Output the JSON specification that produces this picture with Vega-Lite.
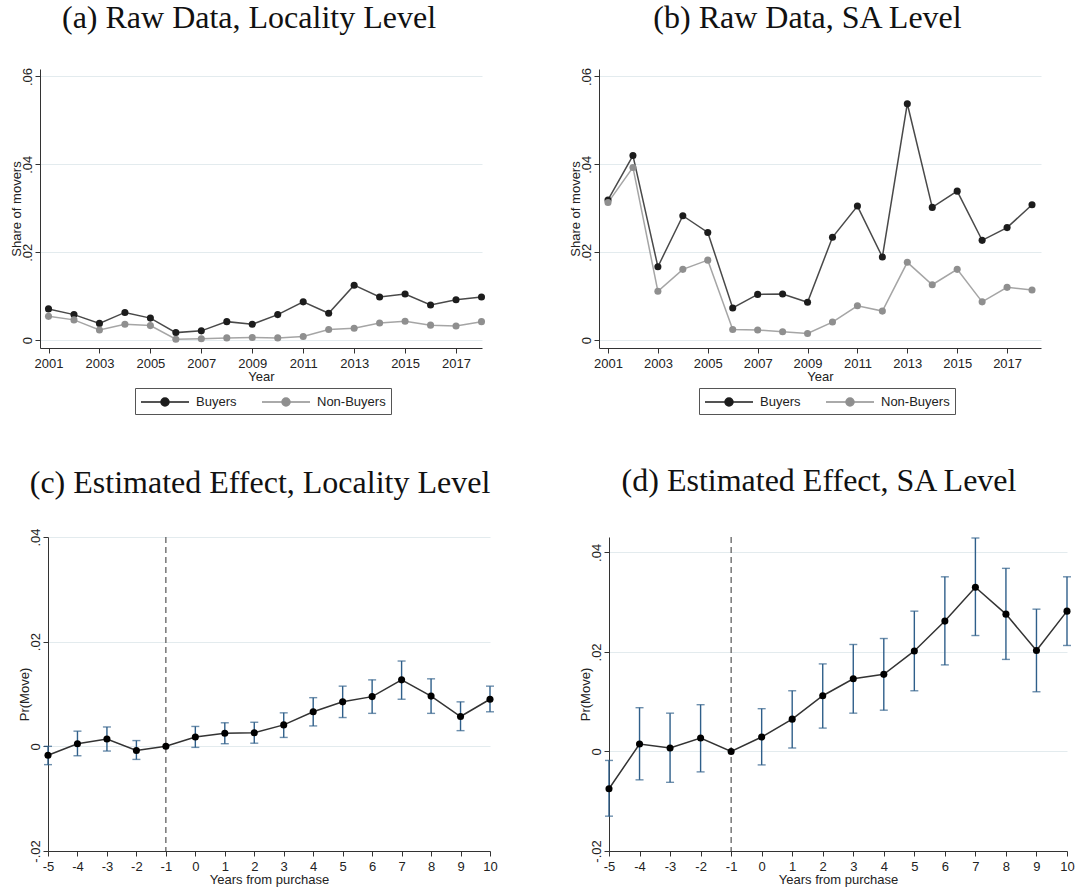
{
  "$schema": "https://vega.github.io/schema/vega-lite/v6.json",
  "background": "white",
  "padding": {"left": 10, "top": 2, "right": 4, "bottom": 4},
  "datasets": {
    "raw": [
      {"level": "Locality", "group": "Buyers", "year": 2001, "share": 0.0071},
      {"level": "Locality", "group": "Buyers", "year": 2002, "share": 0.0058},
      {"level": "Locality", "group": "Buyers", "year": 2003, "share": 0.0038},
      {"level": "Locality", "group": "Buyers", "year": 2004, "share": 0.0063},
      {"level": "Locality", "group": "Buyers", "year": 2005, "share": 0.0050},
      {"level": "Locality", "group": "Buyers", "year": 2006, "share": 0.0017},
      {"level": "Locality", "group": "Buyers", "year": 2007, "share": 0.0021},
      {"level": "Locality", "group": "Buyers", "year": 2008, "share": 0.0042},
      {"level": "Locality", "group": "Buyers", "year": 2009, "share": 0.0036},
      {"level": "Locality", "group": "Buyers", "year": 2010, "share": 0.0058},
      {"level": "Locality", "group": "Buyers", "year": 2011, "share": 0.0087},
      {"level": "Locality", "group": "Buyers", "year": 2012, "share": 0.0061},
      {"level": "Locality", "group": "Buyers", "year": 2013, "share": 0.0125},
      {"level": "Locality", "group": "Buyers", "year": 2014, "share": 0.0098},
      {"level": "Locality", "group": "Buyers", "year": 2015, "share": 0.0105},
      {"level": "Locality", "group": "Buyers", "year": 2016, "share": 0.0080},
      {"level": "Locality", "group": "Buyers", "year": 2017, "share": 0.0092},
      {"level": "Locality", "group": "Buyers", "year": 2018, "share": 0.0098},
      {"level": "Locality", "group": "Non-Buyers", "year": 2001, "share": 0.0054},
      {"level": "Locality", "group": "Non-Buyers", "year": 2002, "share": 0.0046},
      {"level": "Locality", "group": "Non-Buyers", "year": 2003, "share": 0.0023},
      {"level": "Locality", "group": "Non-Buyers", "year": 2004, "share": 0.0036},
      {"level": "Locality", "group": "Non-Buyers", "year": 2005, "share": 0.0033},
      {"level": "Locality", "group": "Non-Buyers", "year": 2006, "share": 0.0002},
      {"level": "Locality", "group": "Non-Buyers", "year": 2007, "share": 0.0003},
      {"level": "Locality", "group": "Non-Buyers", "year": 2008, "share": 0.0005},
      {"level": "Locality", "group": "Non-Buyers", "year": 2009, "share": 0.0006},
      {"level": "Locality", "group": "Non-Buyers", "year": 2010, "share": 0.0005},
      {"level": "Locality", "group": "Non-Buyers", "year": 2011, "share": 0.0008},
      {"level": "Locality", "group": "Non-Buyers", "year": 2012, "share": 0.0024},
      {"level": "Locality", "group": "Non-Buyers", "year": 2013, "share": 0.0027},
      {"level": "Locality", "group": "Non-Buyers", "year": 2014, "share": 0.0039},
      {"level": "Locality", "group": "Non-Buyers", "year": 2015, "share": 0.0043},
      {"level": "Locality", "group": "Non-Buyers", "year": 2016, "share": 0.0034},
      {"level": "Locality", "group": "Non-Buyers", "year": 2017, "share": 0.0032},
      {"level": "Locality", "group": "Non-Buyers", "year": 2018, "share": 0.0042},
      {"level": "SA", "group": "Buyers", "year": 2001, "share": 0.0319},
      {"level": "SA", "group": "Buyers", "year": 2002, "share": 0.0420},
      {"level": "SA", "group": "Buyers", "year": 2003, "share": 0.0167},
      {"level": "SA", "group": "Buyers", "year": 2004, "share": 0.0283},
      {"level": "SA", "group": "Buyers", "year": 2005, "share": 0.0245},
      {"level": "SA", "group": "Buyers", "year": 2006, "share": 0.0073},
      {"level": "SA", "group": "Buyers", "year": 2007, "share": 0.0104},
      {"level": "SA", "group": "Buyers", "year": 2008, "share": 0.0105},
      {"level": "SA", "group": "Buyers", "year": 2009, "share": 0.0086},
      {"level": "SA", "group": "Buyers", "year": 2010, "share": 0.0234},
      {"level": "SA", "group": "Buyers", "year": 2011, "share": 0.0305},
      {"level": "SA", "group": "Buyers", "year": 2012, "share": 0.0189},
      {"level": "SA", "group": "Buyers", "year": 2013, "share": 0.0538},
      {"level": "SA", "group": "Buyers", "year": 2014, "share": 0.0302},
      {"level": "SA", "group": "Buyers", "year": 2015, "share": 0.0339},
      {"level": "SA", "group": "Buyers", "year": 2016, "share": 0.0227},
      {"level": "SA", "group": "Buyers", "year": 2017, "share": 0.0256},
      {"level": "SA", "group": "Buyers", "year": 2018, "share": 0.0308},
      {"level": "SA", "group": "Non-Buyers", "year": 2001, "share": 0.0313},
      {"level": "SA", "group": "Non-Buyers", "year": 2002, "share": 0.0393},
      {"level": "SA", "group": "Non-Buyers", "year": 2003, "share": 0.0111},
      {"level": "SA", "group": "Non-Buyers", "year": 2004, "share": 0.0161},
      {"level": "SA", "group": "Non-Buyers", "year": 2005, "share": 0.0182},
      {"level": "SA", "group": "Non-Buyers", "year": 2006, "share": 0.0024},
      {"level": "SA", "group": "Non-Buyers", "year": 2007, "share": 0.0023},
      {"level": "SA", "group": "Non-Buyers", "year": 2008, "share": 0.0019},
      {"level": "SA", "group": "Non-Buyers", "year": 2009, "share": 0.0015},
      {"level": "SA", "group": "Non-Buyers", "year": 2010, "share": 0.0041},
      {"level": "SA", "group": "Non-Buyers", "year": 2011, "share": 0.0078},
      {"level": "SA", "group": "Non-Buyers", "year": 2012, "share": 0.0066},
      {"level": "SA", "group": "Non-Buyers", "year": 2013, "share": 0.0177},
      {"level": "SA", "group": "Non-Buyers", "year": 2014, "share": 0.0126},
      {"level": "SA", "group": "Non-Buyers", "year": 2015, "share": 0.0161},
      {"level": "SA", "group": "Non-Buyers", "year": 2016, "share": 0.0087},
      {"level": "SA", "group": "Non-Buyers", "year": 2017, "share": 0.0120},
      {"level": "SA", "group": "Non-Buyers", "year": 2018, "share": 0.0114}
    ],
    "eff": [
      {"level": "Locality", "t": -5, "est": -0.0017, "lo": -0.0035, "hi": 0.0},
      {"level": "Locality", "t": -4, "est": 0.0005, "lo": -0.0018, "hi": 0.0029},
      {"level": "Locality", "t": -3, "est": 0.0014, "lo": -0.0009, "hi": 0.0037},
      {"level": "Locality", "t": -2, "est": -0.0008, "lo": -0.0025, "hi": 0.0011},
      {"level": "Locality", "t": -1, "est": 0.0, "lo": null, "hi": null},
      {"level": "Locality", "t": 0, "est": 0.0018, "lo": -0.0002, "hi": 0.0038},
      {"level": "Locality", "t": 1, "est": 0.0025, "lo": 0.0005, "hi": 0.0045},
      {"level": "Locality", "t": 2, "est": 0.0026, "lo": 0.0006, "hi": 0.0046},
      {"level": "Locality", "t": 3, "est": 0.0041, "lo": 0.0017, "hi": 0.0064},
      {"level": "Locality", "t": 4, "est": 0.0066, "lo": 0.0039, "hi": 0.0093},
      {"level": "Locality", "t": 5, "est": 0.0085, "lo": 0.0055, "hi": 0.0115},
      {"level": "Locality", "t": 6, "est": 0.0095, "lo": 0.0063, "hi": 0.0127},
      {"level": "Locality", "t": 7, "est": 0.0127, "lo": 0.0090, "hi": 0.0163},
      {"level": "Locality", "t": 8, "est": 0.0096, "lo": 0.0063, "hi": 0.0129},
      {"level": "Locality", "t": 9, "est": 0.0057, "lo": 0.0030, "hi": 0.0085},
      {"level": "Locality", "t": 10, "est": 0.0090, "lo": 0.0066, "hi": 0.0115},
      {"level": "SA", "t": -5, "est": -0.0075, "lo": -0.0130, "hi": -0.0018},
      {"level": "SA", "t": -4, "est": 0.0015, "lo": -0.0057, "hi": 0.0088},
      {"level": "SA", "t": -3, "est": 0.0007, "lo": -0.0062, "hi": 0.0077},
      {"level": "SA", "t": -2, "est": 0.0027, "lo": -0.0041, "hi": 0.0094},
      {"level": "SA", "t": -1, "est": 0.0, "lo": null, "hi": null},
      {"level": "SA", "t": 0, "est": 0.0029, "lo": -0.0027, "hi": 0.0086},
      {"level": "SA", "t": 1, "est": 0.0065, "lo": 0.0007, "hi": 0.0122},
      {"level": "SA", "t": 2, "est": 0.0112, "lo": 0.0047, "hi": 0.0176},
      {"level": "SA", "t": 3, "est": 0.0146, "lo": 0.0077, "hi": 0.0215},
      {"level": "SA", "t": 4, "est": 0.0155, "lo": 0.0083, "hi": 0.0227},
      {"level": "SA", "t": 5, "est": 0.0202, "lo": 0.0122, "hi": 0.0282},
      {"level": "SA", "t": 6, "est": 0.0262, "lo": 0.0174, "hi": 0.0351},
      {"level": "SA", "t": 7, "est": 0.0330, "lo": 0.0233, "hi": 0.0429},
      {"level": "SA", "t": 8, "est": 0.0276, "lo": 0.0185, "hi": 0.0368},
      {"level": "SA", "t": 9, "est": 0.0203, "lo": 0.0120, "hi": 0.0286},
      {"level": "SA", "t": 10, "est": 0.0282, "lo": 0.0213, "hi": 0.0351}
    ]
  },
  "concat": [
    {
      "width": 442, "height": 279,
      "title": {"text": "(a) Raw Data, Locality Level", "dx": -12, "offset": 7, "baseline": "alphabetic"},
      "data": {"name": "raw"},
      "transform": [{"filter": "datum.level === 'Locality'"}],
      "encoding": {
        "x": {"field": "year", "type": "quantitative",
              "scale": {"domain": [2000.666, 2018.02], "nice": false, "zero": false},
              "axis": {"values": [2001, 2003, 2005, 2007, 2009, 2011, 2013, 2015, 2017], "format": "d", "grid": false, "title": "Year", "titlePadding": 0, "labelPadding": 4, "labelOverlap": false}},
        "y": {"field": "share", "type": "quantitative",
              "scale": {"domain": [-0.0018, 0.0617], "nice": false, "zero": false},
              "axis": {"values": [0, 0.02, 0.04, 0.06], "labelExpr": "datum.value == 0 ? '0' : (datum.value < 0 ? '-' : '') + replace(format(abs(datum.value), '.2f'), '0.', '.')", "labelAngle": -90, "grid": true, "title": "Share of movers", "titlePadding": -2, "labelPadding": 1, "labelOverlap": false}},
        "color": {"field": "group", "type": "nominal",
                  "scale": {"domain": ["Buyers", "Non-Buyers"], "range": ["#1c1c1c", "#8f8f8f"]},
                  "legend": {"title": null, "orient": "none", "legendX": 95, "legendY": 319, "direction": "horizontal", "strokeColor": "#555", "padding": 5, "symbolType": "M-1,0H5M1.5,0A0.5,0.5,0,1,0,2.5,0A0.5,0.5,0,1,0,1.5,0Z", "symbolSize": 256, "symbolStrokeWidth": 1.5, "symbolOpacity": 1, "labelFontSize": 13, "labelFont": "Liberation Sans", "labelColor": "#222", "columnPadding": 22, "labelOffset": 38}}
      },
      "layer": [
        {"mark": {"type": "line", "strokeWidth": 1.5, "opacity": 0.8}},
        {"mark": {"type": "point", "filled": true, "size": 50, "opacity": 1}}
      ]
    },
    {
      "width": 442, "height": 279,
      "title": {"text": "(b) Raw Data, SA Level", "dx": -12.5, "offset": 7, "baseline": "alphabetic"},
      "data": {"name": "raw"},
      "transform": [{"filter": "datum.level === 'SA'"}],
      "encoding": {
        "x": {"field": "year", "type": "quantitative",
              "scale": {"domain": [2000.639, 2018.36], "nice": false, "zero": false},
              "axis": {"values": [2001, 2003, 2005, 2007, 2009, 2011, 2013, 2015, 2017], "format": "d", "grid": false, "title": "Year", "titlePadding": 0, "labelPadding": 4, "labelOverlap": false}},
        "y": {"field": "share", "type": "quantitative",
              "scale": {"domain": [-0.0018, 0.0617], "nice": false, "zero": false},
              "axis": {"values": [0, 0.02, 0.04, 0.06], "labelExpr": "datum.value == 0 ? '0' : (datum.value < 0 ? '-' : '') + replace(format(abs(datum.value), '.2f'), '0.', '.')", "labelAngle": -90, "grid": true, "title": "Share of movers", "titlePadding": -2, "labelPadding": 1, "labelOverlap": false}},
        "color": {"field": "group", "type": "nominal",
                  "scale": {"domain": ["Buyers", "Non-Buyers"], "range": ["#1c1c1c", "#8f8f8f"]},
                  "legend": {"title": null, "orient": "none", "legendX": 100, "legendY": 319, "direction": "horizontal", "strokeColor": "#555", "padding": 5, "symbolType": "M-1,0H5M1.5,0A0.5,0.5,0,1,0,2.5,0A0.5,0.5,0,1,0,1.5,0Z", "symbolSize": 256, "symbolStrokeWidth": 1.5, "symbolOpacity": 1, "labelFontSize": 13, "labelFont": "Liberation Sans", "labelColor": "#222", "columnPadding": 22, "labelOffset": 38}}
      },
      "layer": [
        {"mark": {"type": "line", "strokeWidth": 1.5, "opacity": 0.8}},
        {"mark": {"type": "point", "filled": true, "size": 50, "opacity": 1}}
      ]
    },
    {
      "width": 450, "height": 314,
      "title": {"text": "(c) Estimated Effect, Locality Level", "dx": -5, "offset": 3, "baseline": "alphabetic"},
      "encoding": {
        "x": {"field": "t", "type": "quantitative",
              "scale": {"domain": [-5, 10], "nice": false, "zero": false, "range": [8, 450]},
              "axis": {"values": [-5, -4, -3, -2, -1, 0, 1, 2, 3, 4, 5, 6, 7, 8, 9, 10], "labelExpr": "'' + datum.value", "grid": false, "title": "Years from purchase", "titlePadding": 0, "labelPadding": 4, "labelFlush": false, "labelOverlap": false}}
      },
      "layer": [
        {
          "data": {"values": [{"t": -1}]},
          "mark": {"type": "rule", "strokeDash": [6, 4], "color": "#555", "strokeWidth": 1.2}
        },
        {
          "data": {"name": "eff"},
          "transform": [{"filter": "datum.level === 'Locality' && isValid(datum.lo)"}],
          "mark": {"type": "errorbar", "ticks": {"size": 8}, "color": "#2f5f8a", "thickness": 1.4},
          "encoding": {
            "y": {"field": "lo", "type": "quantitative", "title": "Pr(Move)"},
            "y2": {"field": "hi"}
          }
        },
        {
          "data": {"name": "eff"},
          "transform": [{"filter": "datum.level === 'Locality'"}],
          "mark": {"type": "line", "color": "#333", "strokeWidth": 1.5},
          "encoding": {
            "y": {"field": "est", "type": "quantitative",
                  "scale": {"domain": [-0.02, 0.04], "nice": false, "zero": false},
                  "axis": {"values": [-0.02, 0, 0.02, 0.04], "labelExpr": "datum.value == 0 ? '0' : (datum.value < 0 ? '-' : '') + replace(format(abs(datum.value), '.2f'), '0.', '.')", "labelAngle": -90, "grid": true, "title": "Pr(Move)", "titlePadding": -2, "labelPadding": 1, "labelOverlap": false, "labelFlush": false, "offset": -8}}
          }
        },
        {
          "data": {"name": "eff"},
          "transform": [{"filter": "datum.level === 'Locality'"}],
          "mark": {"type": "point", "filled": true, "size": 50, "color": "#000", "opacity": 1},
          "encoding": {
            "y": {"field": "est", "type": "quantitative", "title": "Pr(Move)"}
          }
        }
      ]
    },
    {
      "width": 468, "height": 314,
      "title": {"text": "(d) Estimated Effect, SA Level", "dx": -14, "offset": 13, "baseline": "alphabetic"},
      "encoding": {
        "x": {"field": "t", "type": "quantitative",
              "scale": {"domain": [-5, 10], "nice": false, "zero": false, "range": [10, 468]},
              "axis": {"values": [-5, -4, -3, -2, -1, 0, 1, 2, 3, 4, 5, 6, 7, 8, 9, 10], "labelExpr": "'' + datum.value", "grid": false, "title": "Years from purchase", "titlePadding": 0, "labelPadding": 4, "labelFlush": false, "labelOverlap": false}}
      },
      "layer": [
        {
          "data": {"values": [{"t": -1}]},
          "mark": {"type": "rule", "strokeDash": [6, 4], "color": "#555", "strokeWidth": 1.2}
        },
        {
          "data": {"name": "eff"},
          "transform": [{"filter": "datum.level === 'SA' && isValid(datum.lo)"}],
          "mark": {"type": "errorbar", "ticks": {"size": 8}, "color": "#2f5f8a", "thickness": 1.4},
          "encoding": {
            "y": {"field": "lo", "type": "quantitative", "title": "Pr(Move)"},
            "y2": {"field": "hi"}
          }
        },
        {
          "data": {"name": "eff"},
          "transform": [{"filter": "datum.level === 'SA'"}],
          "mark": {"type": "line", "color": "#333", "strokeWidth": 1.5},
          "encoding": {
            "y": {"field": "est", "type": "quantitative",
                  "scale": {"domain": [-0.02, 0.0431], "nice": false, "zero": false},
                  "axis": {"values": [-0.02, 0, 0.02, 0.04], "labelExpr": "datum.value == 0 ? '0' : (datum.value < 0 ? '-' : '') + replace(format(abs(datum.value), '.2f'), '0.', '.')", "labelAngle": -90, "grid": true, "title": "Pr(Move)", "titlePadding": -2, "labelPadding": 1, "labelOverlap": false, "labelFlush": false, "offset": -10}}
          }
        },
        {
          "data": {"name": "eff"},
          "transform": [{"filter": "datum.level === 'SA'"}],
          "mark": {"type": "point", "filled": true, "size": 50, "color": "#000", "opacity": 1},
          "encoding": {
            "y": {"field": "est", "type": "quantitative", "title": "Pr(Move)"}
          }
        }
      ]
    }
  ],
  "columns": 2,
  "spacing": {"row": 189, "column": 109},
  "bounds": "flush",
  "resolve": {"scale": {"color": "independent"}},
  "config": {
    "view": {"stroke": null},
    "font": "Liberation Sans",
    "axis": {"labelFont": "Liberation Sans", "labelFontSize": 13, "labelColor": "#222", "titleFont": "Liberation Sans", "titleFontSize": 13, "titleFontWeight": "normal", "titleColor": "#222", "domainColor": "#333", "tickColor": "#333", "tickSize": 5, "gridColor": "#e3ebee"},
    "title": {"font": "Liberation Serif", "fontSize": 32, "fontWeight": "normal", "color": "#111", "anchor": "middle", "frame": "group"}
  }
}
